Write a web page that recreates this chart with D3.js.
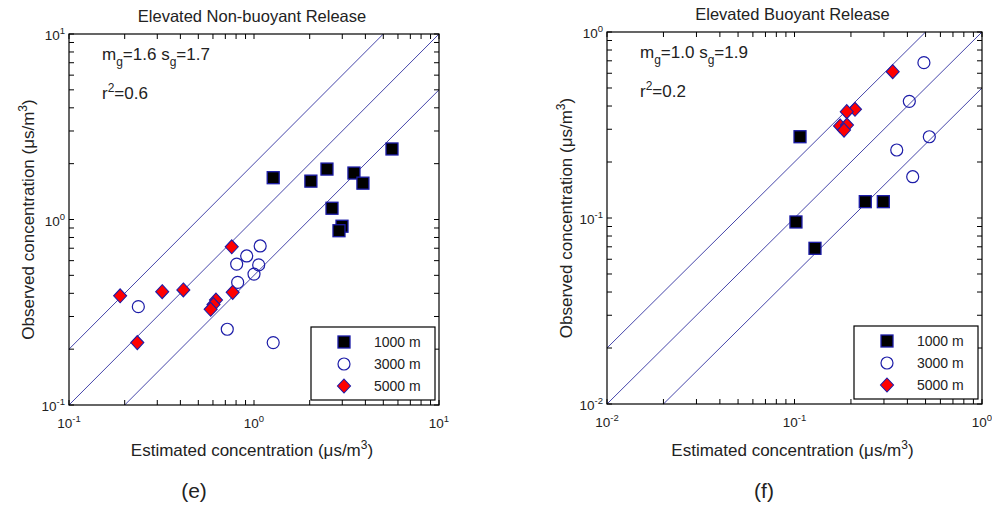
<!DOCTYPE html>
<html><head><meta charset="utf-8">
<script src="https://cdn.jsdelivr.net/npm/d3@7"></script>
<style>
body{margin:0;background:#fff}
svg text{font-family:"Liberation Sans",Arial,Helvetica,sans-serif;fill:#222}
</style>
</head><body>
<svg id="chart" width="992" height="506"></svg>
<script>
// ---------- data ----------
const seriesLabels = ["1000 m", "3000 m", "5000 m"];
const ratioLines = [2, 1, 0.5];

// Panel (e): Elevated Non-buoyant Release
const eTitle = "Elevated Non-buoyant Release";
const eStats = {mg: "1.6", sg: "1.7", r2: "0.6"};
const eDomain = [0.1, 10];
const eEst1000 = [1.27, 2.03, 2.48, 2.64, 3.47, 3.88, 5.57, 2.99, 2.88];
const eObs1000 = [1.68, 1.61, 1.87, 1.15, 1.78, 1.57, 2.40, 0.92, 0.87];
const eEst3000 = [1.08, 0.913, 0.806, 1.06, 1.0, 0.816, 0.237, 0.717, 1.27];
const eObs3000 = [0.72, 0.636, 0.575, 0.569, 0.508, 0.458, 0.339, 0.256, 0.217];
const eEst5000 = [0.758, 0.767, 0.623, 0.604, 0.583, 0.189, 0.319, 0.415, 0.234];
const eObs5000 = [0.713, 0.405, 0.368, 0.348, 0.328, 0.388, 0.408, 0.417, 0.217];

// Panel (f): Elevated Buoyant Release
const fTitle = "Elevated Buoyant Release";
const fStats = {mg: "1.0", sg: "1.9", r2: "0.2"};
const fDomain = [0.01, 1];
const fEst1000 = [0.107, 0.2385, 0.2976, 0.1018, 0.1286];
const fObs1000 = [0.2735, 0.1224, 0.1224, 0.0952, 0.0687];
const fEst3000 = [0.49, 0.4096, 0.5236, 0.351, 0.427];
const fObs3000 = [0.684, 0.424, 0.2735, 0.232, 0.1667];
const fEst5000 = [0.334, 0.2102, 0.19, 0.175, 0.1905, 0.1837];
const fObs5000 = [0.612, 0.384, 0.373, 0.3124, 0.316, 0.297];

const xLabel = "Estimated concentration (\u03bcs/m";
const yLabel = "Observed concentration (\u03bcs/m";

// ---------- drawing ----------
const svg = d3.select("#chart");
svg.append("rect").attr("width", 992).attr("height", 506).attr("fill", "#fff");

const lineColor = "#4646aa";
const edgeColor = "#1c1ca8";

function drawMarker(g, type, cx, cy) {
  if (type === 0) {
    g.append("rect").attr("x", cx - 6).attr("y", cy - 6).attr("width", 12).attr("height", 12)
      .attr("fill", "#000").attr("stroke", edgeColor).attr("stroke-width", 1.3);
  } else if (type === 1) {
    g.append("circle").attr("cx", cx).attr("cy", cy).attr("r", 6)
      .attr("fill", "none").attr("stroke", edgeColor).attr("stroke-width", 1.2);
  } else {
    g.append("path").attr("d", `M${cx},${cy - 7}L${cx + 6.5},${cy}L${cx},${cy + 7}L${cx - 6.5},${cy}Z`)
      .attr("fill", "#f00").attr("stroke", edgeColor).attr("stroke-width", 1.1);
  }
}

function expLabel(sel, exp) {
  sel.append("tspan").text("10").attr("font-size", 13.5);
  sel.append("tspan").text(exp).attr("font-size", 9.5).attr("dy", -6);
}

function panel(p) {
  const x = d3.scaleLog().domain(p.domain).range([p.x0, p.x1]);
  const y = d3.scaleLog().domain(p.domain).range([p.y1, p.y0]);
  const g = svg.append("g");

  // reference lines y = r*x
  ratioLines.forEach(r => {
    const xa = Math.max(p.domain[0], p.domain[0] / r);
    const xb = Math.min(p.domain[1], p.domain[1] / r);
    g.append("line").attr("x1", x(xa)).attr("y1", y(xa * r)).attr("x2", x(xb)).attr("y2", y(xb * r))
      .attr("stroke", lineColor).attr("stroke-width", 1);
  });

  // ticks (inward, all four sides)
  const lo = Math.log10(p.domain[0]), hi = Math.log10(p.domain[1]);
  const tickVals = [];
  for (let e = lo; e < hi; e++) for (let k = 1; k <= 9; k++) tickVals.push(k * Math.pow(10, e));
  tickVals.push(p.domain[1]);
  const tl = 5;
  tickVals.forEach(v => {
    const xv = x(v), yv = y(v);
    g.append("line").attr("x1", xv).attr("x2", xv).attr("y1", p.y1).attr("y2", p.y1 - tl).attr("stroke", "#000");
    g.append("line").attr("x1", xv).attr("x2", xv).attr("y1", p.y0).attr("y2", p.y0 + tl).attr("stroke", "#000");
    g.append("line").attr("y1", yv).attr("y2", yv).attr("x1", p.x0).attr("x2", p.x0 + tl).attr("stroke", "#000");
    g.append("line").attr("y1", yv).attr("y2", yv).attr("x1", p.x1).attr("x2", p.x1 - tl).attr("stroke", "#000");
  });

  // frame
  g.append("rect").attr("x", p.x0).attr("y", p.y0).attr("width", p.x1 - p.x0).attr("height", p.y1 - p.y0)
    .attr("fill", "none").attr("stroke", "#000").attr("stroke-width", 1.2);

  // tick labels
  for (let e = lo; e <= hi; e++) {
    const v = Math.pow(10, e);
    const xt = g.append("text").attr("x", x(v)).attr("y", p.y1 + 23).attr("text-anchor", "middle");
    expLabel(xt, String(e));
    const yt = g.append("text").attr("x", p.x0 - 4).attr("y", y(v) + 6).attr("text-anchor", "end");
    expLabel(yt, String(e));
  }

  // data
  const sets = [[p.est1000, p.obs1000], [p.est3000, p.obs3000], [p.est5000, p.obs5000]];
  sets.forEach((s, i) => {
    s[0].forEach((v, j) => drawMarker(g, i, x(v), y(s[1][j])));
  });

  // title
  g.append("text").attr("x", (p.x0 + p.x1) / 2 - 2).attr("y", p.y0 - 12).attr("text-anchor", "middle")
    .attr("font-size", 16.5).text(p.title);

  // stats
  const st = g.append("text").attr("x", p.x0 + 33).attr("y", p.y0 + 26).attr("font-size", 17);
  st.append("tspan").text("m");
  st.append("tspan").text("g").attr("font-size", 12).attr("dy", 6);
  st.append("tspan").text("=" + p.stats.mg + " s").attr("dy", -6);
  st.append("tspan").text("g").attr("font-size", 12).attr("dy", 6);
  st.append("tspan").text("=" + p.stats.sg).attr("dy", -6);
  const rt = g.append("text").attr("x", p.x0 + 33).attr("y", p.y0 + 65).attr("font-size", 17);
  rt.append("tspan").text("r");
  rt.append("tspan").text("2").attr("font-size", 12).attr("dy", -7);
  rt.append("tspan").text("=" + p.stats.r2).attr("dy", 7);

  // legend
  const lw = 124, lh = 73;
  const lx = p.x1 - 4 - lw, ly = p.y1 - 5 - lh;
  g.append("rect").attr("x", lx).attr("y", ly).attr("width", lw).attr("height", lh)
    .attr("fill", "#fff").attr("stroke", "#000").attr("stroke-width", 1.2);
  const rows = [15, 37, 59];
  seriesLabels.forEach((lab, i) => {
    drawMarker(g, i, lx + 33, ly + rows[i]);
    g.append("text").attr("x", lx + 63).attr("y", ly + rows[i] + 5).attr("font-size", 14).text(lab);
  });

  // axis labels
  const xl = g.append("text").attr("x", (p.x0 + p.x1) / 2 - 2).attr("y", 456).attr("text-anchor", "middle").attr("font-size", 17);
  xl.append("tspan").text(xLabel);
  xl.append("tspan").text("3").attr("font-size", 12).attr("dy", -7);
  xl.append("tspan").text(")").attr("dy", 7);

  const yl = g.append("text").attr("transform", `translate(${p.x0 - 35},${(p.y0 + p.y1) / 2}) rotate(-90)`)
    .attr("text-anchor", "middle").attr("font-size", 17);
  yl.append("tspan").text(yLabel);
  yl.append("tspan").text("3").attr("font-size", 12).attr("dy", -7);
  yl.append("tspan").text(")").attr("dy", 7);

  g.append("text").attr("x", p.tagX).attr("y", 498).attr("text-anchor", "middle").attr("font-size", 21).text(p.tag);
}

panel({x0: 69, x1: 439, y0: 34, y1: 405, domain: eDomain, title: eTitle, stats: eStats,
  est1000: eEst1000, obs1000: eObs1000, est3000: eEst3000, obs3000: eObs3000, est5000: eEst5000, obs5000: eObs5000,
  tag: "(e)", tagX: 194});
panel({x0: 607, x1: 982, y0: 32, y1: 404, domain: fDomain, title: fTitle, stats: fStats,
  est1000: fEst1000, obs1000: fObs1000, est3000: fEst3000, obs3000: fObs3000, est5000: fEst5000, obs5000: fObs5000,
  tag: "(f)", tagX: 764});
</script>
</body></html>
